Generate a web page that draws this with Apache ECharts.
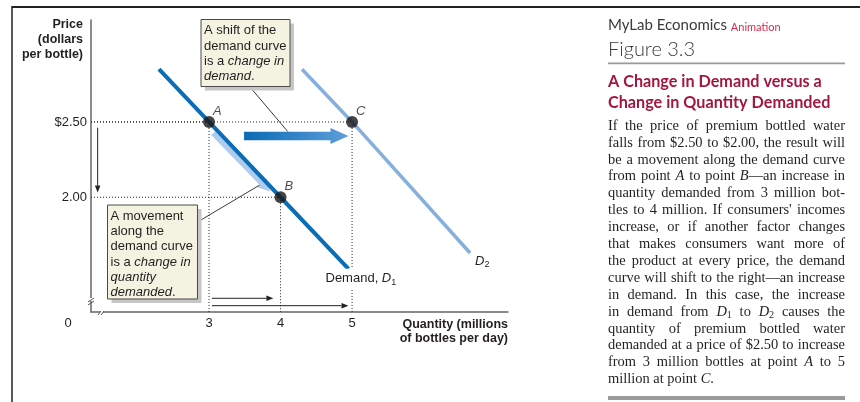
<!DOCTYPE html>
<html><head><meta charset="utf-8">
<script src="https://cdn.jsdelivr.net/npm/echarts@6/dist/echarts.min.js"></script>
<style>html,body{margin:0;padding:0;background:#fff}#c{width:860px;height:402px}</style>
</head><body><div id="c"></div>
<script>
// ---------- data ----------
const D1_QTY = [2.3, 3, 4, 4.95];
const D1_PRICE = [2.85, 2.5, 2.0, 1.525];
const D2_QTY = [4.3, 5, 6.65];
const D2_PRICE = [2.85, 2.5, 1.63];
const POINT_NAMES = ['A', 'B', 'C'];
const POINT_QTY = [3, 4, 5];
const POINT_PRICE = [2.5, 2.0, 2.5];
const X_TICKS = [3, 4, 5];
const X_TICK_LABELS = ['3', '4', '5'];
const Y_TICKS = [2.0, 2.5];
const Y_TICK_LABELS = ['2.00', '$2.50'];
const ORIGIN_LABEL = '0';
const X_RANGE = [1.35, 7.18];
const Y_RANGE = [1.238, 3.177];
const Y_TITLE = ['Price', '(dollars', 'per bottle)'];
const X_TITLE = ['Quantity (millions', 'of bottles per day)'];
const D1_LABEL = 'Demand, {i|D}{s|1}';
const D2_LABEL = '{i|D}{s|2}';
const BOX_SHIFT = ['A shift of the', 'demand curve', 'is a {i|change in}', '{i|demand}.'];
const BOX_MOVE = ['A movement', 'along the', 'demand curve', 'is a {i|change in}', '{i|quantity}', '{i|demanded}.'];
const PANEL_BRAND = 'MyLab Economics';
const PANEL_TAG = 'Animation';
const PANEL_FIG = 'Figure 3.3';
const PANEL_TITLE = ['A Change in Demand versus a', 'Change in Quantity Demanded'];
const BODY_LINES = [
  "If the price of premium bottled water",
  "falls from $2.50 to $2.00, the result will",
  "be a movement along the demand curve",
  "from point {i|A} to point {i|B}\u2014an increase in",
  "quantity demanded from 3 million bot-",
  "tles to 4 million. If consumers' incomes",
  "increase, or if another factor changes",
  "that makes consumers want more of",
  "the product at every price, the demand",
  "curve will shift to the right\u2014an increase",
  "in demand. In this case, the increase",
  "in demand from {i|D}{s|1} to {i|D}{s|2} causes the",
  "quantity of premium bottled water",
  "demanded at a price of $2.50 to increase",
  "from 3 million bottles at point {i|A} to 5",
  "million at point {i|C}."
];

// ---------- styles ----------
const SANS = '"Liberation Sans", Arial, sans-serif';
const SERIF = '"Liberation Serif", "Times New Roman", serif';
const HEAD = 'Lato, "Open Sans", sans-serif';
const INK = '#231f20';

const chart = echarts.init(document.getElementById('c'), null, { renderer: 'canvas' });
const pairs = (xs, ys) => xs.map((x, i) => [x, ys[i]]);

function guide(data) {
  return { type: 'line', data, symbol: 'none', silent: true, z: 1,
    lineStyle: { color: '#222', width: 1, type: [1, 2] } };
}
const guides = [];
POINT_QTY.forEach((q, i) => {
  const p = POINT_PRICE[i];
  guides.push(guide([[X_RANGE[0], p], [q, p]]));
  guides.push(guide([[q, p], [q, Y_RANGE[0]]]));
});

const option = {
  animation: false,
  grid: { left: 91, top: 20, right: 352, bottom: 90 },
  xAxis: {
    type: 'value', min: X_RANGE[0], max: X_RANGE[1],
    axisLine: { show: true, onZero: false, lineStyle: { color: '#666', width: 1.5 } },
    axisTick: { show: false }, splitLine: { show: false },
    axisLabel: { customValues: X_TICKS, formatter: v => X_TICK_LABELS[X_TICKS.indexOf(v)],
      color: INK, fontSize: 13, fontFamily: SANS, margin: 5 }
  },
  yAxis: {
    type: 'value', min: Y_RANGE[0], max: Y_RANGE[1],
    axisLine: { show: true, onZero: false, lineStyle: { color: '#666', width: 1.5 } },
    axisTick: { show: false }, splitLine: { show: false },
    axisLabel: { customValues: Y_TICKS, formatter: v => Y_TICK_LABELS[Y_TICKS.indexOf(v)],
      color: INK, fontSize: 13, fontFamily: SANS, margin: 4 }
  },
  series: [
    ...guides,
    { type: 'line', name: 'D1', data: pairs(D1_QTY, D1_PRICE), symbol: 'none', z: 3,
      lineStyle: { color: '#0b6db5', width: 4 } },
    { type: 'line', name: 'D2', data: pairs(D2_QTY, D2_PRICE), symbol: 'none', z: 3,
      lineStyle: { color: '#86afde', width: 3.5 } },
    { type: 'scatter', z: 6, symbolSize: 12, itemStyle: { color: '#161616' },
      data: POINT_QTY.map((q, i) => ({ value: [q, POINT_PRICE[i]], name: POINT_NAMES[i] })),
      label: { show: true, formatter: '{b}', position: 'right', distance: 0, offset: [-2, -11],
        fontStyle: 'italic', fontSize: 13, fontFamily: SANS, color: INK } }
  ]
};
chart.setOption(option);

// ---------- annotations ----------
const px = (x, y) => chart.convertToPixel({ gridIndex: 0 }, [x, y]);

function arrowPoly(p0, p1, bodyHalf, headHalf, headLen) {
  const dx = p1[0] - p0[0], dy = p1[1] - p0[1], L = Math.hypot(dx, dy);
  const ux = dx / L, uy = dy / L, nx = -uy, ny = ux;
  const hb = [p1[0] - ux * headLen, p1[1] - uy * headLen];
  return [
    [p0[0] + nx * bodyHalf, p0[1] + ny * bodyHalf],
    [hb[0] + nx * bodyHalf, hb[1] + ny * bodyHalf],
    [hb[0] + nx * headHalf, hb[1] + ny * headHalf],
    [p1[0], p1[1]],
    [hb[0] - nx * headHalf, hb[1] - ny * headHalf],
    [hb[0] - nx * bodyHalf, hb[1] - ny * bodyHalf],
    [p0[0] - nx * bodyHalf, p0[1] - ny * bodyHalf]
  ];
}
function thinArrow(p0, p1) {
  const dx = p1[0] - p0[0], dy = p1[1] - p0[1], L = Math.hypot(dx, dy);
  const ux = dx / L, uy = dy / L;
  const hb = [p1[0] - ux * 7, p1[1] - uy * 7];
  return [
    { type: 'line', z: 20, shape: { x1: p0[0], y1: p0[1], x2: hb[0], y2: hb[1] }, style: { stroke: '#222', lineWidth: 1 } },
    { type: 'polygon', z: 20, shape: { points: [[p1[0], p1[1]], [hb[0] - uy * 2.8, hb[1] + ux * 2.8], [hb[0] + uy * 2.8, hb[1] - ux * 2.8]] }, style: { fill: '#222' } }
  ];
}
const richSans = (size) => ({
  i: { fontStyle: 'italic', fontSize: size, fontFamily: SANS, fill: INK },
  s: { fontSize: size - 4, fontFamily: SANS, fill: INK, verticalAlign: 'bottom' }
});

function box(x, y, w, h, lines) {
  return [
    { type: 'rect', z: 15, shape: { x: x + 4, y: y + 4, width: w, height: h }, style: { fill: '#c6c6c6' } },
    { type: 'rect', z: 16, shape: { x: x, y: y, width: w, height: h }, style: { fill: '#f4f2e1', stroke: '#4a4a4a', lineWidth: 1 } },
    { type: 'text', z: 17, x: x + 3, y: y + 3.5, style: { text: lines.join('\n'), fontSize: 13, fontFamily: SANS, fill: INK,
      lineHeight: 15.3, verticalAlign: 'top', rich: richSans(13) } }
  ];
}

// text measuring for justified body
const mctx = document.createElement('canvas').getContext('2d');
let BODY_FS = 13;
const bodyFont = (k, fs) => k === 'i' ? 'italic ' + fs + 'px "Liberation Serif"' : k === 's' ? Math.round(fs * 0.68) + 'px "Liberation Serif"' : fs + 'px "Liberation Serif"';
function tokens(str) {
  const re = /\{(\w+)\|([^}]*)\}|([^{]+)/g; const out = []; let m;
  while ((m = re.exec(str))) out.push(m[3] !== undefined ? ['n', m[3]] : [m[1], m[2]]);
  return out;
}
function measure(word, fs) {
  return tokens(word).reduce((s, t) => { mctx.font = bodyFont(t[0], fs); return s + mctx.measureText(t[1]).width; }, 0);
}
function spaceW(fs) { mctx.font = bodyFont('n', fs); return mctx.measureText(' ').width; }

function buildGraphics() {
  const G = [];
  const o = px(X_RANGE[0], Y_RANGE[0]);

  // frame
  G.push({ type: 'line', z: 30, shape: { x1: 12, y1: 7, x2: 860, y2: 7 }, style: { stroke: '#222', lineWidth: 2 } });
  G.push({ type: 'line', z: 30, shape: { x1: 12, y1: 6, x2: 12, y2: 402 }, style: { stroke: '#222', lineWidth: 1.5 } });

  // axis breaks
  G.push({ type: 'rect', z: 12, shape: { x: o[0] - 2, y: o[1] - 14, width: 4, height: 3 }, style: { fill: '#fff' } });
  G.push({ type: 'line', z: 12, shape: { x1: o[0] - 3, y1: o[1] - 10, x2: o[0] + 3, y2: o[1] - 14 }, style: { stroke: '#555', lineWidth: 1 } });
  G.push({ type: 'line', z: 12, shape: { x1: o[0] - 3, y1: o[1] - 7, x2: o[0] + 3, y2: o[1] - 11 }, style: { stroke: '#555', lineWidth: 1 } });
  G.push({ type: 'rect', z: 12, shape: { x: o[0] + 9, y: o[1] - 2, width: 3, height: 4 }, style: { fill: '#fff' } });
  G.push({ type: 'line', z: 12, shape: { x1: o[0] + 7, y1: o[1] + 3, x2: o[0] + 10, y2: o[1] - 1 }, style: { stroke: '#555', lineWidth: 1 } });
  G.push({ type: 'line', z: 12, shape: { x1: o[0] + 10, y1: o[1] + 3, x2: o[0] + 13, y2: o[1] - 1 }, style: { stroke: '#555', lineWidth: 1 } });

  // origin label
  G.push({ type: 'text', z: 12, x: o[0] - 23, y: o[1] + 11, style: { text: ORIGIN_LABEL, fontSize: 13, fontFamily: SANS, fill: INK, align: 'center', verticalAlign: 'middle' } });

  // axis titles
  G.push({ type: 'text', z: 12, x: 83, y: 17.6, style: { text: Y_TITLE.join('\n'), fontSize: 12.5, fontWeight: 'bold', fontFamily: SANS, fill: INK, align: 'right', verticalAlign: 'top', lineHeight: 14.7 } });
  const xr = px(X_RANGE[1], Y_RANGE[0]);
  G.push({ type: 'text', z: 12, x: xr[0], y: xr[1] + 5, style: { text: X_TITLE.join('\n'), fontSize: 12.5, fontWeight: 'bold', fontFamily: SANS, fill: INK, align: 'right', verticalAlign: 'top', lineHeight: 14.3 } });

  // curve labels
  const d1e = px(D1_QTY[D1_QTY.length - 1], D1_PRICE[D1_PRICE.length - 1]);
  G.push({ type: 'text', z: 12, x: d1e[0] - 24, y: d1e[1] + 10, style: { text: D1_LABEL, fontSize: 13, fontFamily: SANS, fill: INK,
    verticalAlign: 'middle', lineHeight: 16, backgroundColor: '#fff', padding: [2, 1, 2, 1], rich: richSans(13) } });
  const d2e = px(D2_QTY[D2_QTY.length - 1], D2_PRICE[D2_PRICE.length - 1]);
  G.push({ type: 'text', z: 12, x: d2e[0] + 5, y: d2e[1] + 8, style: { text: D2_LABEL, fontSize: 13, fontFamily: SANS, fill: INK,
    verticalAlign: 'middle', lineHeight: 16, rich: richSans(13) } });

  // movement arrow along D1 (A -> B), drawn under the curve
  let m0 = px(3.08, 2.436), m1 = px(3.877, 2.048);
  {
    const dx = m1[0] - m0[0], dy = m1[1] - m0[1], L = Math.hypot(dx, dy);
    const nx = -dy / L, ny = dx / L;
    m0 = [m0[0] + nx * 2.2, m0[1] + ny * 2.2]; m1 = [m1[0] + nx * 2.2, m1[1] + ny * 2.2];
  }
  G.push({ type: 'polygon', z: 1, shape: { points: arrowPoly(m0, m1, 2.8, 6, 12) }, style: { fill: '#afcbee' } });

  // shift arrow D1 -> D2
  const s0 = px(3.49, 2.407), s1 = px(4.95, 2.407);
  G.push({ type: 'polygon', z: 10, shape: { points: arrowPoly(s0, s1, 4.3, 8, 18) },
    style: { fill: new echarts.graphic.LinearGradient(0, 0, 1, 0, [{ offset: 0, color: '#0a6bb4' }, { offset: 1, color: '#5e9ed9' }]) } });

  // thin arrows near axes
  G.push(...thinArrow(px(1.443, 2.462), px(1.443, 2.031)));
  G.push(...thinArrow(px(3.04, 1.329), px(3.9, 1.329)));
  G.push(...thinArrow(px(3.04, 1.28), px(4.95, 1.28)));

  // boxes and leaders
  G.push(...box(201, 19.5, 89, 67, BOX_SHIFT));
  const lt = px(4.1, 2.407);
  G.push({ type: 'line', z: 11, shape: { x1: 250, y1: 87, x2: lt[0], y2: lt[1] - 4.5 }, style: { stroke: '#222', lineWidth: 0.9 } });
  G.push(...box(107.5, 205, 90, 94, BOX_MOVE));
  const lb = px(3.72, 2.14);
  G.push({ type: 'line', z: 11, shape: { x1: 197.5, y1: 222, x2: lb[0] - 1, y2: lb[1] + 9 }, style: { stroke: '#222', lineWidth: 0.9 } });

  // ---------- right panel ----------
  const PX0 = 608, PW = 237;
  G.push({ type: 'text', x: PX0, y: 25.5, style: { text: PANEL_BRAND, fontSize: 15, fontFamily: HEAD, fill: '#3a3a3a', verticalAlign: 'middle' } });
  mctx.font = '15px Lato';
  const bw = mctx.measureText(PANEL_BRAND + ' ').width;
  G.push({ type: 'text', x: PX0 + bw, y: 27, style: { text: PANEL_TAG, fontSize: 11, fontFamily: HEAD, fill: '#e0284a', verticalAlign: 'middle' } });
  G.push({ type: 'text', x: PX0, y: 50, style: { text: PANEL_FIG, fontSize: 20, fontWeight: 300, fontFamily: HEAD, fill: '#3a3a3a', verticalAlign: 'middle' } });
  G.push({ type: 'rect', shape: { x: PX0, y: 62.5, width: PW, height: 1.8 }, style: { fill: '#9a9a9a' } });
  PANEL_TITLE.forEach((t, i) => G.push({ type: 'text', x: PX0, y: 82 + i * 21, style: { text: t, fontSize: 16.2, fontWeight: 'bold', fontFamily: HEAD, fill: '#a3173f', verticalAlign: 'middle' } }));

  // fit body font so the widest line nearly fills the column
  let maxNat = 0;
  BODY_LINES.slice(0, -1).forEach(line => {
    const ws = line.split(' ');
    const nat = ws.reduce((s, w) => s + measure(w, 13), 0) + spaceW(13) * (ws.length - 1);
    maxNat = Math.max(maxNat, nat);
  });
  BODY_FS = Math.min(15, 13 * PW / maxNat * 0.985);
  const fs = BODY_FS;
  const bodyRich = {
    i: { fontStyle: 'italic', fontSize: fs, fontFamily: SERIF, fill: INK, lineHeight: 16 },
    s: { fontSize: Math.round(fs * 0.68), fontFamily: SERIF, fill: INK, verticalAlign: 'bottom' }
  };
  BODY_LINES.forEach((line, li) => {
    const y = 126 + li * 16.9;
    const words = line.split(' ');
    const widths = words.map(w => measure(w, fs));
    const total = widths.reduce((a, b) => a + b, 0);
    const last = li === BODY_LINES.length - 1;
    const gap = (last || words.length < 2) ? spaceW(fs) : (PW - total) / (words.length - 1);
    let x = PX0;
    words.forEach((w, wi) => {
      G.push({ type: 'text', x: x, y: y, style: { text: w, fontSize: fs, fontFamily: SERIF, fill: INK, verticalAlign: 'middle', lineHeight: 16, rich: bodyRich } });
      x += widths[wi] + gap;
    });
  });
  G.push({ type: 'rect', shape: { x: PX0, y: 396, width: PW, height: 4 }, style: { fill: '#9a9a9a' } });
  return G;
}
chart.setOption({ graphic: buildGraphics() });
</script>
</body></html>
